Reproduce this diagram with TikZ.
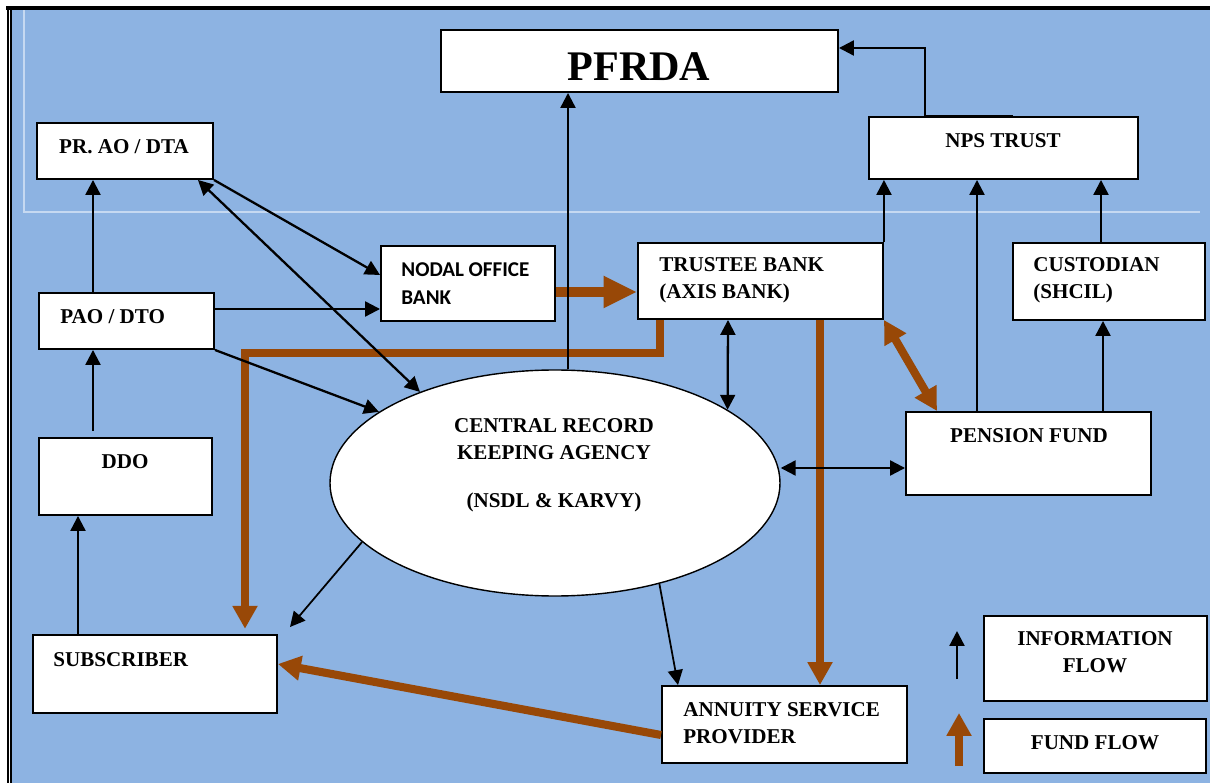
\documentclass[tikz,border=0pt]{standalone}
\usepackage{fontspec}
\setmainfont{Liberation Serif}
\newfontfamily\calibrifont{Carlito}
\usetikzlibrary{arrows.meta,shapes.geometric}
\definecolor{bgblue}{HTML}{8DB3E2}
\definecolor{fundbrown}{HTML}{984807}
\definecolor{faintline}{HTML}{C6D9F1}
\newcommand{\pxl}{0.02cm}

\begin{document}
\begin{tikzpicture}[x=0.02cm, y=-0.02cm,
    box/.style={draw, fill=white, line width=1.1pt, inner sep=0pt},
    txt/.style={font=\bfseries\fontsize{12}{15.4}\selectfont, inner sep=0pt},
    info/.style={line width=1.3pt, >={Triangle[length=8.5pt,width=8.5pt]}, ->},
    fund/.style={draw=fundbrown, line width=4.6pt, >={Triangle[length=13pt,width=13.5pt]}, ->}]
        \useasboundingbox (0,0) rectangle (1210,783);
        % background and frame
        \fill[bgblue] (11.5,10) rectangle (1210,783);
        \draw[faintline, line width=0.6pt] (24,10) -- (24,212) -- (1200,212);
        \draw[line width=2.3pt] (6,8) -- (1210,8);
        \draw[line width=1.1pt] (7.7,7) -- (7.7,783);
        \draw[line width=0.75pt] (11,9) -- (11,783);

        % boxes
        \node[box, minimum width=397*\pxl, minimum height=62*\pxl] at (639.5, 61)   (pfrda)   {};
        \node[box, minimum width=176*\pxl, minimum height=56*\pxl] at (125, 151)    (prao)    {};
        \node[box, minimum width=175*\pxl, minimum height=56*\pxl] at (126.5, 321)  (pao)     {};
        \node[box, minimum width=173*\pxl, minimum height=77*\pxl] at (125.5, 476.5) (ddo)    {};
        \node[box, minimum width=244*\pxl, minimum height=78*\pxl] at (155, 674)    (sub)     {};
        \node[box, minimum width=174*\pxl, minimum height=75*\pxl] at (468, 283.5)  (nodal)   {};
        \node[box, minimum width=245*\pxl, minimum height=76*\pxl] at (760.5, 281)  (trustee) {};
        \node[box, minimum width=269*\pxl, minimum height=62*\pxl] at (1003.5, 148) (nps)     {};
        \node[box, minimum width=192*\pxl, minimum height=77*\pxl] at (1109, 281.5) (cust)    {};
        \node[box, minimum width=245*\pxl, minimum height=83*\pxl] at (1028.5, 453.5) (pf)    {};
        \node[box, minimum width=245*\pxl, minimum height=77*\pxl] at (784.5, 724.5) (asp)    {};
        \node[box, minimum width=223*\pxl, minimum height=85*\pxl] at (1095.5, 658.5) (info)  {};
        \node[box, minimum width=222*\pxl, minimum height=54*\pxl] at (1095, 746)   (fund)    {};
        \node[ellipse, draw, fill=white, line width=0.8pt, inner sep=0pt,
              minimum width=450*\pxl, minimum height=226*\pxl] at (555, 483) (crka) {};

        % texts
        \node[txt, font=\bfseries\fontsize{24}{28}\selectfont] at (639, 67) (pfrdatxt) {PFRDA};
        \node[txt] at (124, 147)                 (praotxt)    {PR. AO / DTA};
        \node[txt, anchor=west] at (60, 317)     (paotxt)     {PAO / DTO};
        \node[txt] at (125, 462)                 (ddotxt)     {DDO};
        \node[txt, anchor=west] at (53, 660)     (subtxt)     {SUBSCRIBER};
        \node[txt, font=\calibrifont\bfseries\fontsize{12}{16}\selectfont, anchor=west, align=left]
            at (401, 284) (nodaltxt) {NODAL OFFICE\\BANK};
        \node[txt, anchor=west, align=left] at (659, 280)  (trusteetxt) {TRUSTEE BANK\\(AXIS BANK)};
        \node[txt] at (1003, 141)                (npstxt)     {NPS TRUST};
        \node[txt, anchor=west, align=left] at (1033, 280) (custtxt) {CUSTODIAN\\(SHCIL)};
        \node[txt] at (1029, 436)                (pftxt)      {PENSION FUND};
        \node[txt, align=center] at (554, 465)   (crkatxt)    {CENTRAL RECORD\\KEEPING AGENCY\\[12pt](NSDL \& KARVY)};
        \node[txt, anchor=west, align=left] at (683, 723) (asptxt) {ANNUITY SERVICE\\PROVIDER};
        \node[txt, align=center] at (1095, 652.5) (infotxt)   {INFORMATION\\FLOW};
        \node[txt] at (1095, 743)                (fundtxt)    {FUND FLOW};

        \coordinate (subtip)    at (290, 627);
        \coordinate (infotail)  at (957, 679);
        \coordinate (infohead)  at (957, 631);
        \coordinate (fundtail)  at (959, 766);
        \coordinate (fundhead)  at (959, 713);

        % fund flow
        \draw[fund, line width=5.6pt, >={Triangle[length=19pt,width=17pt]}] (nodal.east |- 0,292) -- (trustee.west |- 0,292);
        \draw[fund, shorten >=3pt] (trustee.south -| 660,0) -- ++(0,33) -| (sub.north -| 245,0);
        \draw[fund] (trustee.south -| 820,0) -- (asp.north -| 820,0);
        \draw[fund, <->] (trustee.south east) -- (pf.north -| 937,0);
        \draw[fund] (asp.west |- 0,735) -- (sub.east |- 0,664);
        \draw[fund] (fundtail) -- (fundhead);

        % information flow
        \draw[info] (pao.north -| 93,0) -- (prao.south -| 93,0);
        \draw[info, shorten <=6*\pxl] (ddo.north -| 93,0) -- (pao.south -| 93,0);
        \draw[info] (sub.north -| 78,0) -- (ddo.south -| 78,0);
        \draw[info] (prao.south east) -- (nodal.west |- 0,275);
        \draw[info, <->] (prao.south -| 198,0) -- (crka.146);
        \draw[info] (pao.east |- 0,309) -- (nodal.west |- 0,309);
        \draw[info] (pao.south east) -- (crka.158);
        \draw[info] (crka.north -| 568,0) -- (pfrda.south -| 568,0);
        \draw[info] (nps.north -| 1013,0) -- (nps.north -| 925,0) |- (pfrda.east |- 0,48);
        \draw[info] (trustee.north east) -- (nps.south -| trustee.east);
        \draw[info] (pf.north -| 977,0) -- (nps.south -| 977,0);
        \draw[info] (cust.north -| 1101,0) -- (nps.south -| 1101,0);
        \draw[info] (pf.north -| 1103,0) -- (cust.south -| 1103,0);
        \draw[info, <->] (trustee.south -| 728,0) -- (crka.23);
        \draw[info, <->] (crka.east |- 0,468) -- (pf.west |- 0,468);
        \draw[info, line width=1pt] (crka.197) -- (subtip);
        \draw[info, line width=1pt] (crka.316) -- (asp.north -| 678,0);
        \draw[info] (infotail) -- (infohead);
\end{tikzpicture}
\end{document}
